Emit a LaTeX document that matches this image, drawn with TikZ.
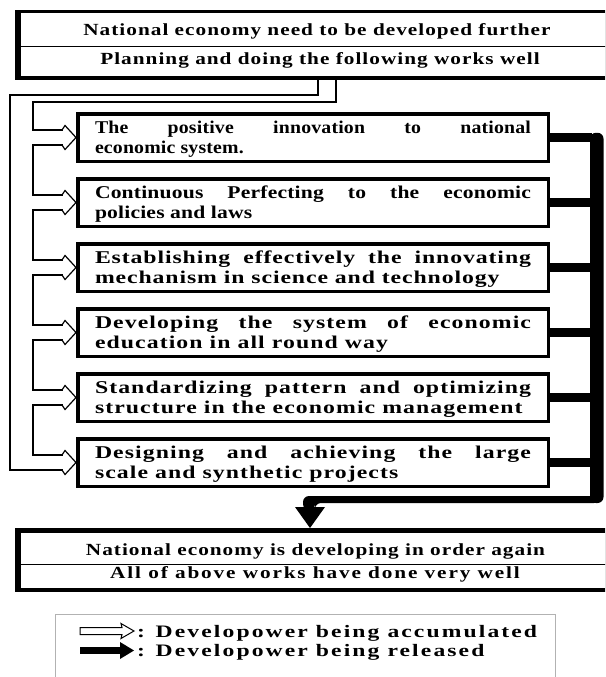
\documentclass[tikz,border=0pt]{standalone}
\usepackage{fontspec}
\setmainfont{Liberation Serif}
\newcommand\hdrfont{\fontsize{17pt}{19pt}\selectfont\bfseries\addfontfeature{FakeStretch=1.25,LetterSpace=6}}
\newcommand\hdrfontb{\fontsize{17pt}{19pt}\selectfont\bfseries\addfontfeature{FakeStretch=1.25,LetterSpace=11}}
\newcommand\legfont{\fontsize{17.5pt}{20pt}\selectfont\bfseries\addfontfeature{FakeStretch=1.35,LetterSpace=12}}
\newcommand\mystrutb{\rule[-4.5pt]{0pt}{21.5pt}}
\newcommand\twoline[4]{\fontsize{18pt}{20pt}\selectfont\bfseries\addfontfeature{FakeStretch=#1,LetterSpace=#2}%
\parbox{436pt}{\baselineskip=20pt\lineskiplimit=-10pt\noindent\mystrutb\makebox[436pt][s]{#3}\par\noindent\mystrutb #4}}
\tikzset{
  wbox/.style={draw, line width=3.5pt, minimum width=470.5pt, minimum height=47.5pt, inner sep=0pt, fill=white},
  blackframe/.style={fill=black, anchor=north west, inner sep=0pt, minimum width=597pt},
  hdr/.style={anchor=base, inner sep=0pt, font=\hdrfont},
  hdrb/.style={anchor=base, inner sep=0pt, font=\hdrfontb},
  leg/.style={anchor=base west, inner sep=0pt, font=\legfont},
  thinln/.style={line width=1.2pt, line join=miter},
  outerln/.style={line width=2pt, line join=miter},
  release/.style={line width=9.5pt}
}
\begin{document}
\begin{tikzpicture}[x=1pt,y=-1pt]
\useasboundingbox (0,0) rectangle (605,677);
\clip (0,0) rectangle (605,677);
\fill[white] (0,0) rectangle (605,677);

% ---------- top box ----------
\node[blackframe, minimum height=70pt] (top) at (15,10) {};
\fill[white] (21,13) rectangle (615,76);
\draw[line width=1pt] (21,46.5) -- (615,46.5);
\node[hdr] (t1) at (317,36) {National economy need to be developed further};
\node[hdr] (t2) at (320,65) {Planning and doing the following works well};

% ---------- six work boxes ----------
\node[wbox] (b1) at (313,137.5) {\twoline{1.1}{1}{The positive innovation to national}{economic system.}};
\node[wbox] (b2) at (313,202.5) {\twoline{1.2}{1}{Continuous Perfecting to the economic}{policies and laws}};
\node[wbox] (b3) at (313,267.5) {\twoline{1.32}{5}{Establishing effectively the innovating}{mechanism in science and technology}};
\node[wbox] (b4) at (313,332.5) {\twoline{1.32}{6}{Developing the system of economic}{education in all round way}};
\node[wbox] (b5) at (313,397.5) {\twoline{1.32}{6}{Standardizing pattern and optimizing}{structure in the economic management}};
\node[wbox] (b6) at (313,462.5) {\twoline{1.32}{6}{Designing and achieving the large}{scale and synthetic projects}};

% ---------- bottom box ----------
\node[blackframe, minimum height=64pt] (bot) at (15,528) {};
\fill[white] (21,533) rectangle (615,588);
\draw[line width=1pt] (21,564) -- (615,564);
\node[hdr] (t3) at (315.5,555.5) {National economy is developing in order again};
\node[hdrb] (t4) at (315,578) {All of above works have done very well};

% ---------- developower being released (black) ----------
\fill[rounded corners=6pt] (590,132.75) rectangle (603.5,503);
\foreach \i/\c in {1/137.5,2/202.5,3/267.5,4/332.5,5/397.5,6/462.5}{
  \draw[release] (b\i.east) -- (592,\c);
}
\fill[rounded corners=6pt] (303,510) -- (303,496) -- (600,496) -- (600,503) -- (315,503) -- (315,510) -- cycle;
\coordinate (tip) at (310,528);
\fill (295,507) -- (325,507) -- (tip) -- cycle;

% ---------- developower being accumulated (hollow) ----------
\coordinate (sA) at (318,80);
\coordinate (sB) at (336,80);
\draw[outerln] (sA) -- (318,95) -- (10,95) -- (10,470) -- (63,470);
\draw[thinln] (sB) -- (336,102) -- (33,102) -- (33,130) -- (63,130);
\foreach \c/\n in {137.5/202.5,202.5/267.5,267.5/332.5,332.5/397.5,397.5/462.5}{
  \draw[thinln] (63,\c+7.5) -- (33,\c+7.5) -- (33,\n-7.5) -- (63,\n-7.5);
}
\foreach \i/\c in {1/137.5,2/202.5,3/267.5,4/332.5,5/397.5,6/462.5}{
  \draw[thinln] (62,\c-7.5) -- (65,\c-12) -- (b\i.west) -- (65,\c+12) -- (62,\c+7.5);
}

% ---------- legend ----------
\draw[black!30, line width=1pt] (55,614) rectangle (555,695);
\draw[thinln, line width=1pt] (80,627.5) -- (122,627.5) -- (121,623.5) -- (134,631) -- (121,638.5) -- (122,634.5) -- (80,634.5) -- cycle;
\fill (80,647) rectangle (122,654);
\fill (120,642) -- (134,650.5) -- (120,659) -- cycle;
\node[leg] (l1) at (137,637) {: Developower being accumulated};
\node[leg] (l2) at (137,656.5) {: Developower being released};
\end{tikzpicture}
\end{document}
